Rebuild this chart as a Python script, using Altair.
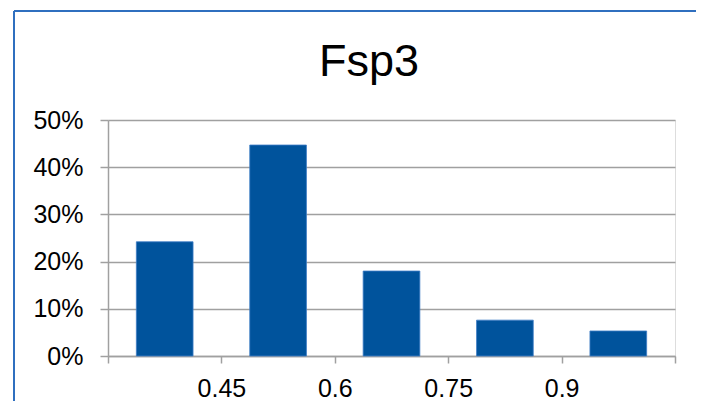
import altair as alt
import pandas as pd

# histogram bins (edges) and share of compounds per bin
bin_start = [0.30, 0.45, 0.60, 0.75, 0.90]
bin_end = [0.45, 0.60, 0.75, 0.90, 1.05]
share = [0.242, 0.447, 0.180, 0.076, 0.053]
x_ticks = [0.30, 0.45, 0.60, 0.75, 0.90, 1.05]
y_ticks = [0.0, 0.1, 0.2, 0.3, 0.4, 0.5]
title_text = "Fsp3"

df = pd.DataFrame({"start": bin_start, "end": bin_end, "share": share})

W, H = 567, 236
FONT = "Liberation Sans"
GRID = "#a0a0a0"
BORDER = "#2f6fbf"

bars = alt.Chart(df).transform_calculate(
    bx1="datum.start + (datum.end - datum.start) * 0.25",
    bx2="datum.end - (datum.end - datum.start) * 0.25",
).mark_bar(color="#00539C", stroke="#3f7ec6", strokeWidth=0.8).encode(
    x=alt.X(
        "bx1:Q",
        scale=alt.Scale(domain=[0.3, 1.05], nice=False, zero=False),
        axis=alt.Axis(
            values=x_ticks,
            format=".2~f",
            labelExpr="datum.value < 0.4 || datum.value > 1.0 ? '' : datum.label",
            grid=False,
            domainColor=GRID,
            domainWidth=1.5,
            tickColor=GRID,
            tickWidth=1.5,
            tickSize=7,
            labelFont=FONT,
            labelFontSize=25,
            labelColor="black",
            labelPadding=13,
            labelFlush=False,
            labelOverlap=False,
            labelBound=False,
            title=None,
        ),
    ),
    x2="bx2:Q",
    y=alt.Y(
        "share:Q",
        scale=alt.Scale(domain=[0, 0.5], nice=False),
        axis=alt.Axis(
            values=y_ticks,
            format=".0%",
            grid=True,
            gridColor=GRID,
            gridWidth=1.5,
            domainColor=GRID,
            domainWidth=1.5,
            tickColor=GRID,
            tickWidth=1.5,
            tickSize=8,
            labelFont=FONT,
            labelFontSize=25,
            labelColor="black",
            labelPadding=17,
            labelFlush=False,
            title=None,
        ),
    ),
    y2=alt.datum(0),
)

one = pd.DataFrame({"k": [0]})
left_border = alt.Chart(one).mark_rule(color=BORDER, strokeWidth=2).encode(
    x=alt.value(-94), y=alt.value(-109), y2=alt.value(281)
)
top_border = alt.Chart(one).mark_rule(color=BORDER, strokeWidth=2).encode(
    x=alt.value(-94), x2=alt.value(588), y=alt.value(-109)
)
title_mark = alt.Chart(one).mark_text(
    font=FONT, fontSize=45, color="black", align="center", baseline="alphabetic"
).encode(
    x=alt.value(261), y=alt.value(-44), text=alt.value(title_text)
)

chart = alt.layer(left_border, top_border, title_mark, bars).properties(
    width=W,
    height=H,
    padding={"left": 5, "top": 2, "right": 0, "bottom": 0},
).configure_view(stroke=None).configure(background="white")

chart.save("out.html", embed_options={"renderer": "svg", "actions": False})
